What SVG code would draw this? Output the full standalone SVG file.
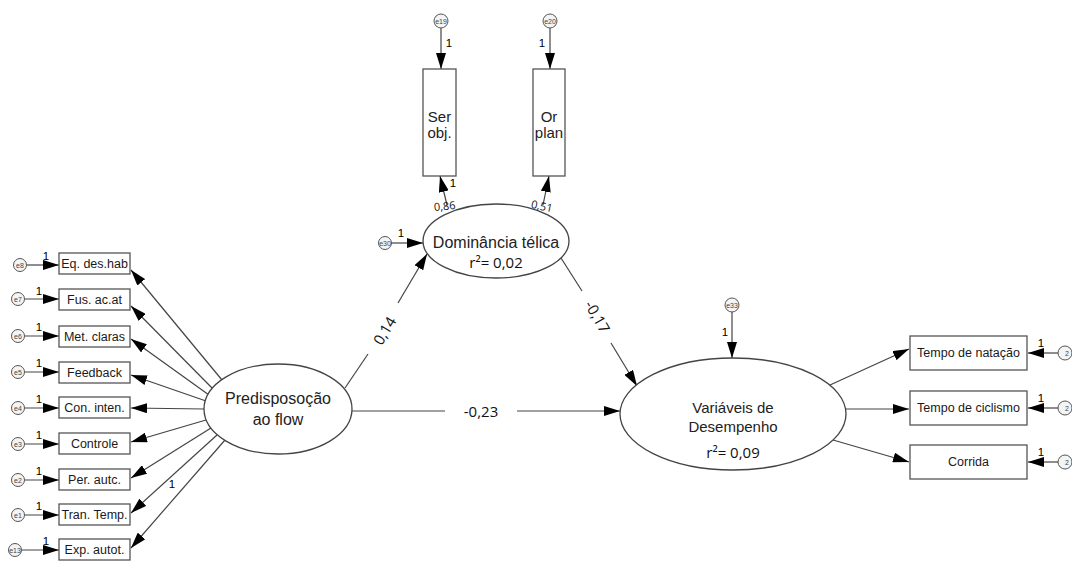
<svg xmlns="http://www.w3.org/2000/svg" width="1072" height="562" viewBox="0 0 1072 562">
<style>
.ln{stroke:#444;stroke-width:1.2;fill:none;marker-end:url(#ah)}
.ln0{stroke:#444;stroke-width:1.2;fill:none}
.bx{fill:#fff;stroke:#555;stroke-width:1.3}
.el{fill:#fff;stroke:#444;stroke-width:1.3}
.ec{fill:#f4f4f4;stroke:#555;stroke-width:1}
.bt{font-family:"Liberation Sans",Arial,sans-serif;font-size:12.5px;fill:#1a1a1a;text-anchor:middle}
.big{font-family:"Liberation Sans",Arial,sans-serif;font-size:16px;fill:#222;text-anchor:middle}
.num{font-family:"Open Sans","Liberation Sans",sans-serif;font-size:15px;fill:#111;text-anchor:middle}
.sm{font-family:"Open Sans","Liberation Sans",sans-serif;font-size:11px;fill:#111;text-anchor:middle}
.one{font-family:"Liberation Sans",Arial,sans-serif;font-size:11.5px;fill:#000;text-anchor:middle}
.et{font-family:"Liberation Sans",Arial,sans-serif;font-size:7px;fill:#444;text-anchor:middle}
</style>
<defs>
<marker id="ah" markerUnits="userSpaceOnUse" markerWidth="16" markerHeight="10" refX="16" refY="5" orient="auto">
<path d="M0,0 L16,5 L0,10 z" fill="#000"/>
</marker>
</defs>

<g id="connectors">
<line class="ln" x1="222" y1="380" x2="131" y2="270"/>
<line class="ln" x1="213" y1="389" x2="131" y2="306"/>
<line class="ln" x1="209" y1="395" x2="131" y2="339"/>
<line class="ln" x1="206" y1="401" x2="131" y2="375"/>
<line class="ln" x1="204" y1="409" x2="131" y2="408"/>
<line class="ln" x1="206" y1="420" x2="131" y2="442"/>
<line class="ln" x1="211" y1="428" x2="131" y2="478"/>
<line class="ln" x1="217" y1="435" x2="131" y2="513"/>
<line class="ln" x1="225" y1="440" x2="131" y2="548"/>
<line class="ln" x1="27" y1="265" x2="59" y2="265"/>
<line class="ln" x1="25" y1="299" x2="59" y2="299"/>
<line class="ln" x1="25" y1="336" x2="59" y2="336"/>
<line class="ln" x1="25" y1="372" x2="59" y2="372"/>
<line class="ln" x1="25" y1="408" x2="59" y2="408"/>
<line class="ln" x1="25" y1="444" x2="59" y2="444"/>
<line class="ln" x1="25" y1="480" x2="59" y2="480"/>
<line class="ln" x1="25" y1="515" x2="59" y2="515"/>
<line class="ln" x1="22" y1="550" x2="59" y2="550"/>
<line class="ln0" x1="345" y1="388" x2="368" y2="354"/>
<line class="ln" x1="398" y1="303" x2="427" y2="254"/>
<line class="ln0" x1="561" y1="258" x2="582" y2="291"/>
<line class="ln" x1="611" y1="343" x2="637" y2="386"/>
<line class="ln0" x1="352" y1="411" x2="445" y2="411"/>
<line class="ln" x1="517" y1="411" x2="620" y2="411"/>
<line class="ln" x1="447" y1="205" x2="440" y2="176"/>
<line class="ln" x1="543" y1="205" x2="549" y2="176"/>
<line class="ln" x1="441" y1="28" x2="441" y2="69"/>
<line class="ln" x1="550" y1="28" x2="550" y2="69"/>
<line class="ln" x1="391" y1="243" x2="423" y2="243"/>
<line class="ln" x1="732" y1="312" x2="732" y2="358"/>
<line class="ln" x1="830" y1="385" x2="909" y2="349"/>
<line class="ln" x1="846" y1="409" x2="909" y2="409"/>
<line class="ln" x1="833" y1="440" x2="909" y2="462"/>
<line class="ln" x1="1058" y1="353" x2="1028" y2="353"/>
<line class="ln" x1="1058" y1="408" x2="1028" y2="408"/>
<line class="ln" x1="1058" y1="462" x2="1028" y2="462"/>
<text class="num" transform="translate(385,331) rotate(-59)" dy="5">0,14</text>
<text class="num" transform="translate(597,317) rotate(60)" dy="5">-0,17</text>
<text class="num" x="481" y="417">-0,23</text>
<text class="sm" transform="translate(445,210) rotate(-5)">0,86</text>
<text class="sm" transform="translate(541,210) rotate(12)">0,51</text>
<text class="one" x="453" y="187">1</text>
<text class="one" x="449" y="47">1</text>
<text class="one" x="542" y="47">1</text>
<text class="one" x="401" y="237">1</text>
<text class="one" x="725" y="336">1</text>
<text class="one" x="172" y="488">1</text>
<text class="one" x="46" y="260">1</text>
<text class="one" x="39" y="295">1</text>
<text class="one" x="39" y="331">1</text>
<text class="one" x="39" y="367">1</text>
<text class="one" x="39" y="403">1</text>
<text class="one" x="39" y="439">1</text>
<text class="one" x="39" y="475">1</text>
<text class="one" x="39" y="510">1</text>
<text class="one" x="46" y="545">1</text>
<text class="one" x="1041" y="347">1</text>
<text class="one" x="1041" y="402">1</text>
<text class="one" x="1041" y="456">1</text>
</g>

<g id="n-eq"><rect class="bx" x="59" y="253" width="71" height="21"/><text class="bt" x="94.5" y="268">Eq. des.hab</text></g>
<g id="n-fus"><rect class="bx" x="59" y="289" width="71" height="21"/><text class="bt" x="94.5" y="304">Fus. ac.at</text></g>
<g id="n-met"><rect class="bx" x="59" y="326" width="71" height="21"/><text class="bt" x="94.5" y="341">Met. claras</text></g>
<g id="n-feed"><rect class="bx" x="59" y="362" width="71" height="21"/><text class="bt" x="94.5" y="377">Feedback</text></g>
<g id="n-con"><rect class="bx" x="59" y="397" width="71" height="21"/><text class="bt" x="94.5" y="412">Con. inten.</text></g>
<g id="n-ctrl"><rect class="bx" x="59" y="433" width="71" height="21"/><text class="bt" x="94.5" y="448">Controle</text></g>
<g id="n-per"><rect class="bx" x="59" y="469" width="71" height="21"/><text class="bt" x="94.5" y="484">Per. autc.</text></g>
<g id="n-tran"><rect class="bx" x="59" y="504" width="71" height="21"/><text class="bt" x="94.5" y="519">Tran. Temp.</text></g>
<g id="n-exp"><rect class="bx" x="59" y="539" width="71" height="21"/><text class="bt" x="94.5" y="554">Exp. autot.</text></g>

<g id="e8"><circle class="ec" cx="20" cy="265" r="6.5"/><text class="et" x="20" y="267.5">e8</text></g>
<g id="e7"><circle class="ec" cx="18" cy="299" r="6.5"/><text class="et" x="18" y="301.5">e7</text></g>
<g id="e6"><circle class="ec" cx="18" cy="336" r="6.5"/><text class="et" x="18" y="338.5">e6</text></g>
<g id="e5"><circle class="ec" cx="18" cy="372" r="6.5"/><text class="et" x="18" y="374.5">e5</text></g>
<g id="e4"><circle class="ec" cx="18" cy="408" r="6.5"/><text class="et" x="18" y="410.5">e4</text></g>
<g id="e3"><circle class="ec" cx="18" cy="444" r="6.5"/><text class="et" x="18" y="446.5">e3</text></g>
<g id="e2"><circle class="ec" cx="18" cy="480" r="6.5"/><text class="et" x="18" y="482.5">e2</text></g>
<g id="e1"><circle class="ec" cx="18" cy="515" r="6.5"/><text class="et" x="18" y="517.5">e1</text></g>
<g id="e13"><circle class="ec" cx="15" cy="550" r="6.5"/><text class="et" x="15" y="552.5">e13</text></g>

<g id="n-pred"><ellipse class="el" cx="278" cy="409" rx="74" ry="45"/><text class="big" x="278" y="404">Predisposoção</text><text class="big" x="278" y="425">ao flow</text></g>
<g id="n-dom"><ellipse class="el" cx="496" cy="241" rx="73" ry="37"/><text class="big" x="496" y="248">Dominância télica</text><text class="num" x="496" y="268">r²= 0,02</text></g>
<g id="n-var"><ellipse class="el" cx="733" cy="414" rx="113" ry="56"/><text class="big" x="733" y="413" style="font-size:15px">Variáveis de</text><text class="big" x="733" y="432" style="font-size:15px">Desempenho</text><text class="num" x="733" y="458">r²= 0,09</text></g>

<g id="n-ser"><rect class="bx" x="423" y="69" width="33" height="107"/><text class="big" x="439.5" y="122" style="font-size:15px">Ser</text><text class="big" x="439.5" y="138" style="font-size:15px">obj.</text></g>
<g id="n-or"><rect class="bx" x="533" y="69" width="32" height="107"/><text class="big" x="549" y="122" style="font-size:15px">Or</text><text class="big" x="549" y="138" style="font-size:15px">plan</text></g>

<g id="e19"><circle class="ec" cx="441" cy="21" r="7"/><text class="et" x="441" y="23.5">e19</text></g>
<g id="e20"><circle class="ec" cx="550" cy="21" r="7"/><text class="et" x="550" y="23.5">e20</text></g>
<g id="e30"><circle class="ec" cx="385" cy="243" r="6.5"/><text class="et" x="385" y="245.5">e30</text></g>
<g id="e33"><circle class="ec" cx="732" cy="305" r="7"/><text class="et" x="732" y="307.5">e33</text></g>

<g id="n-nat"><rect class="bx" x="910" y="336" width="117" height="34"/><text class="bt" x="968.5" y="357">Tempo de natação</text></g>
<g id="n-cic"><rect class="bx" x="910" y="391" width="117" height="34"/><text class="bt" x="968.5" y="412">Tempo de ciclismo</text></g>
<g id="n-cor"><rect class="bx" x="910" y="445" width="117" height="34"/><text class="bt" x="968.5" y="466">Corrida</text></g>

<g id="e21"><circle class="ec" cx="1065" cy="353" r="7"/><text class="et" x="1067" y="355.5">2</text></g>
<g id="e22"><circle class="ec" cx="1065" cy="408" r="7"/><text class="et" x="1067" y="410.5">2</text></g>
<g id="e23"><circle class="ec" cx="1065" cy="462" r="7"/><text class="et" x="1067" y="464.5">2</text></g>
</svg>
